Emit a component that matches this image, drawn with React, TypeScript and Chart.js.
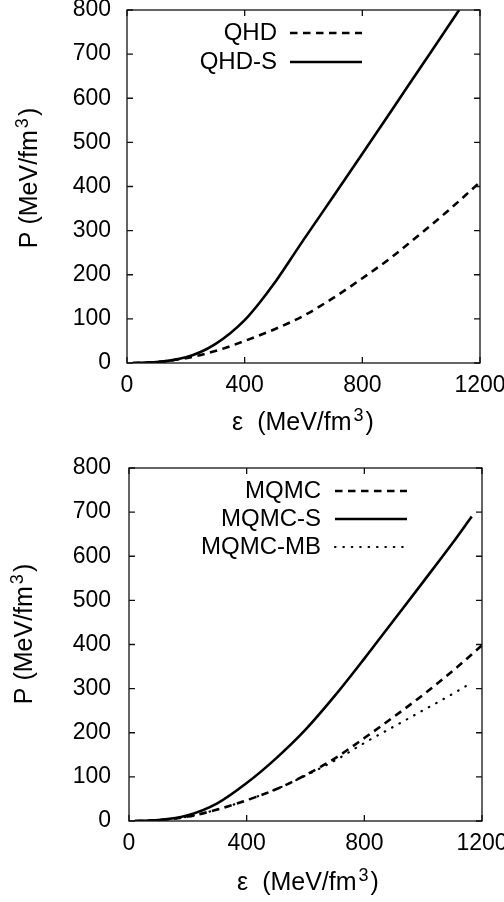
import React, { useEffect, useRef } from 'react';
import { Chart, registerables } from 'chart.js';

Chart.register(...registerables);

// ---------- data ----------
const X_TICKS = [0, 400, 800, 1200];
const Y_TICKS = [0, 100, 200, 300, 400, 500, 600, 700, 800];

// top panel
const QHD_EPS = [20, 100, 200, 300, 400, 500, 600, 700, 800, 900, 1000, 1100, 1200];
const QHD_P = [0, 2, 11, 27, 50, 76, 107, 147, 192, 240, 294, 350, 410];

const QHD_S_EPS = [20, 100, 150, 200, 250, 300, 350, 400, 450, 500, 550, 600, 700, 800, 900, 1000, 1100, 1129];
const QHD_S_P = [0, 2, 6, 13, 25, 43, 67, 97, 136, 180, 229, 279, 376, 474, 573, 672, 771, 800];

// bottom panel
const MQMC_EPS = [20, 100, 200, 300, 400, 500, 600, 700, 800, 900, 1000, 1100, 1200];
const MQMC_P = [0, 2, 10, 26, 47, 72, 104, 142, 188, 236, 286, 340, 398];

const MQMC_S_EPS = [20, 100, 200, 300, 400, 500, 600, 700, 800, 900, 1000, 1100, 1165];
const MQMC_S_P = [0, 2, 13, 40, 86, 142, 207, 284, 368, 455, 542, 630, 690];

const MQMC_MB_EPS = [20, 100, 200, 300, 400, 500, 600, 700, 800, 900, 1000, 1100, 1146];
const MQMC_MB_P = [0, 2, 10, 26, 47, 72, 103, 137, 177, 214, 251, 288, 306];

const FONT = "'Liberation Sans', Arial, Helvetica, sans-serif";

type Series = { label: string; eps: number[]; p: number[]; dash: number[]; width: number; cap: 'butt' | 'round' };

type PanelSpec = {
  series: Series[];
  padding: { top: number; right: number; left: number; bottom: number };
  yWidth: number;
  xHeight: number;
  yTickPad: number;
  legendTextRight: number;
  legendLineStart: number;
  legendLineEnd: number;
  legendY0: number;
  legendDy: number;
  xTitleCx: number;
  xTitleBaseline: number;
  yTitleBaseX: number;
  yTitleCy: number;
};

const DASHED = [7.5, 5.5];
const DOTTED = [0.5, 7.9];

const TOP_SPEC: PanelSpec = {
  series: [
    { label: 'QHD', eps: QHD_EPS, p: QHD_P, dash: DASHED, width: 2.6, cap: 'butt' },
    { label: 'QHD-S', eps: QHD_S_EPS, p: QHD_S_P, dash: [], width: 2.6, cap: 'butt' },
  ],
  padding: { top: 10, right: 24, left: 0, bottom: 0 },
  yWidth: 127,
  xHeight: 88,
  yTickPad: 16,
  legendTextRight: 277,
  legendLineStart: 290,
  legendLineEnd: 362,
  legendY0: 33,
  legendDy: 29,
  xTitleCx: 303,
  xTitleBaseline: 430,
  yTitleBaseX: 36.5,
  yTitleCy: 178,
};

const BOTTOM_SPEC: PanelSpec = {
  series: [
    { label: 'MQMC', eps: MQMC_EPS, p: MQMC_P, dash: DASHED, width: 2.6, cap: 'butt' },
    { label: 'MQMC-S', eps: MQMC_S_EPS, p: MQMC_S_P, dash: [], width: 2.6, cap: 'butt' },
    { label: 'MQMC-MB', eps: MQMC_MB_EPS, p: MQMC_MB_P, dash: DOTTED, width: 2.2, cap: 'round' },
  ],
  padding: { top: 17, right: 22, left: 0, bottom: 0 },
  yWidth: 129,
  xHeight: 81,
  yTickPad: 18,
  legendTextRight: 321,
  legendLineStart: 335,
  legendLineEnd: 407,
  legendY0: 40,
  legendDy: 28,
  xTitleCx: 308,
  xTitleBaseline: 439,
  yTitleBaseX: 32,
  yTitleCy: 183,
};

function drawUnitText(ctx: CanvasRenderingContext2D, pre: string, x: number, y: number, center: boolean) {
  const main = `25px ${FONT}`;
  const sup = `18px ${FONT}`;
  ctx.font = main;
  const w1 = ctx.measureText(pre).width;
  const w3 = ctx.measureText(')').width;
  ctx.font = sup;
  const w2 = ctx.measureText('3').width;
  const gap = 2;
  const total = w1 + gap + w2 + gap + w3;
  let sx = center ? x - total / 2 : x;
  ctx.textAlign = 'left';
  ctx.textBaseline = 'alphabetic';
  ctx.font = main;
  ctx.fillText(pre, sx, y);
  sx += w1 + gap;
  ctx.font = sup;
  ctx.fillText('3', sx, y - 9);
  sx += w2 + gap;
  ctx.font = main;
  ctx.fillText(')', sx, y);
}

const framePlugin = {
  id: 'frame',
  afterDatasetsDraw(chart: any, _args: any, opts: any) {
    const spec: PanelSpec = opts.spec;
    const { ctx, chartArea } = chart;
    const { left, right, top, bottom } = chartArea;
    const xs = chart.scales.x;
    const ys = chart.scales.y;
    ctx.save();
    ctx.strokeStyle = '#111';
    ctx.lineWidth = 1.3;
    ctx.setLineDash([]);
    ctx.strokeRect(left, top, right - left, bottom - top);
    const tl = 6;
    ctx.beginPath();
    for (const v of X_TICKS) {
      const px = xs.getPixelForValue(v);
      ctx.moveTo(px, bottom);
      ctx.lineTo(px, bottom - tl);
      ctx.moveTo(px, top);
      ctx.lineTo(px, top + tl);
    }
    for (const v of Y_TICKS) {
      const py = ys.getPixelForValue(v);
      ctx.moveTo(left, py);
      ctx.lineTo(left + tl, py);
      ctx.moveTo(right, py);
      ctx.lineTo(right - tl, py);
    }
    ctx.stroke();

    // legend (gnuplot style)
    ctx.fillStyle = '#000';
    chart.data.datasets.forEach((ds: any, i: number) => {
      const y = spec.legendY0 + i * spec.legendDy;
      ctx.font = `24px ${FONT}`;
      ctx.textAlign = 'right';
      ctx.textBaseline = 'middle';
      ctx.fillText(ds.label, spec.legendTextRight, y);
      ctx.beginPath();
      ctx.strokeStyle = '#000';
      ctx.lineWidth = ds.borderWidth;
      ctx.lineCap = ds.borderCapStyle;
      ctx.setLineDash(ds.borderDash || []);
      ctx.moveTo(spec.legendLineStart, y);
      ctx.lineTo(spec.legendLineEnd, y);
      ctx.stroke();
    });
    ctx.setLineDash([]);
    ctx.lineCap = 'butt';

    // axis titles
    ctx.fillStyle = '#000';
    drawUnitText(ctx, 'ε  (MeV/fm', spec.xTitleCx, spec.xTitleBaseline, true);
    ctx.save();
    ctx.translate(spec.yTitleBaseX, spec.yTitleCy);
    ctx.rotate(-Math.PI / 2);
    drawUnitText(ctx, 'P (MeV/fm', 0, 0, true);
    ctx.restore();
    ctx.restore();
  },
};

function buildConfig(spec: PanelSpec): any {
  return {
    type: 'line',
    data: {
      datasets: spec.series.map((s) => ({
        label: s.label,
        data: s.eps.map((e, i) => ({ x: e, y: s.p[i] })),
        borderColor: '#000',
        backgroundColor: '#000',
        borderWidth: s.width,
        borderDash: s.dash,
        borderCapStyle: s.cap,
        pointRadius: 0,
        fill: false,
        cubicInterpolationMode: 'monotone',
      })),
    },
    options: {
      responsive: false,
      animation: false,
      devicePixelRatio: 1,
      layout: { padding: spec.padding },
      plugins: {
        legend: { display: false },
        tooltip: { enabled: false },
        frame: { spec },
      },
      scales: {
        x: {
          type: 'linear',
          min: 0,
          max: 1200,
          grid: { display: false, drawTicks: false },
          border: { display: false },
          ticks: {
            stepSize: 400,
            padding: 9,
            color: '#000',
            maxRotation: 0,
            autoSkip: false,
            font: { family: FONT, size: 23 },
            callback: (v: number) => String(v),
          },
          afterFit: (s: any) => {
            s.height = spec.xHeight;
            s.paddingLeft = 0;
            s.paddingRight = 0;
          },
        },
        y: {
          type: 'linear',
          min: 0,
          max: 800,
          grid: { display: false, drawTicks: false },
          border: { display: false },
          ticks: {
            stepSize: 100,
            padding: spec.yTickPad,
            color: '#000',
            autoSkip: false,
            font: { family: FONT, size: 23 },
            callback: (v: number) => String(v),
          },
          afterFit: (s: any) => {
            s.width = spec.yWidth;
            s.paddingTop = 0;
            s.paddingBottom = 0;
          },
        },
      },
    },
    plugins: [framePlugin],
  };
}

function Panel({ spec, top }: { spec: PanelSpec; top: number }) {
  const ref = useRef<HTMLCanvasElement>(null);
  useEffect(() => {
    const chart = new Chart(ref.current as HTMLCanvasElement, buildConfig(spec));
    return () => chart.destroy();
  }, [spec]);
  return (
    <canvas
      ref={ref}
      width={504}
      height={451}
      style={{ position: 'absolute', left: 0, top, width: 504, height: 451 }}
    />
  );
}

export default function App() {
  return (
    <div style={{ position: 'absolute', left: 0, top: 0, width: 504, height: 902, background: '#fff', overflow: 'hidden' }}>
      <Panel spec={TOP_SPEC} top={0} />
      <Panel spec={BOTTOM_SPEC} top={451} />
    </div>
  );
}
